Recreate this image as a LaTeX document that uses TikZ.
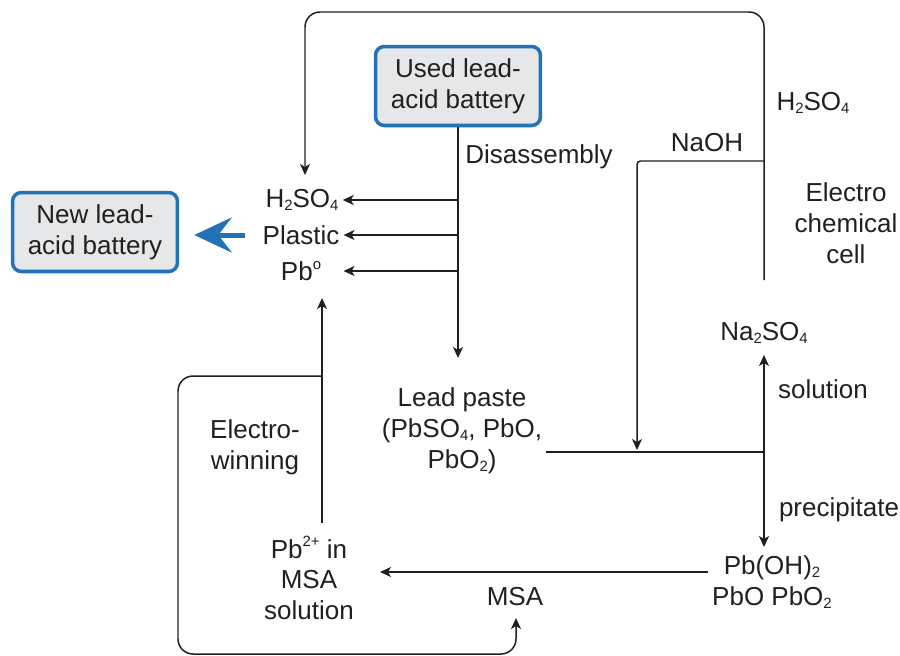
\documentclass[tikz,border=0pt]{standalone}
\usepackage{fontspec}
\setmainfont{Liberation Sans}
\usetikzlibrary{arrows.meta}
\definecolor{boxblue}{HTML}{2272B9}
\definecolor{boxgray}{HTML}{E6E7E9}
\definecolor{ink}{HTML}{231F20}
\newcommand{\chsub}[1]{\raisebox{-0.2ex}{\fontsize{8.5pt}{8.5pt}\selectfont #1}}
\newcommand{\chsup}[1]{\raisebox{0.85ex}{\fontsize{8.5pt}{8.5pt}\selectfont #1}}

\begin{document}
\begin{tikzpicture}[x=0.02cm, y=-0.02cm, line width=0.85pt, draw=ink, text=ink,
    font=\fontsize{14.8pt}{17.6pt}\selectfont,
    battery/.style = {draw=boxblue, line width=2pt, fill=boxgray, rounded corners=5pt,
        align=center, minimum width=3.3cm, minimum height=1.58cm},
    chem/.style = {align=center, inner sep=2pt},
    arr/.style = {-{Stealth[length=0.22cm, width=0.2cm, inset=0.06cm]}},
    bigarr/.style = {draw=boxblue, line width=0.1cm, -{Stealth[length=0.75cm, width=0.7cm, inset=0.27cm]}}]
                \useasboundingbox (0,0) rectangle (900,656);
                \node[battery] (used) at (458,86) {Used lead-\\acid battery};
                \node[battery] (newbat) at (95,232) {New lead-\\acid battery};
                \node[chem] (acidL) at (302,200) {H\chsub{2}SO\chsub{4}};
                \node[chem] (plastic) at (301,235) {Plastic};
                \node[chem] (lead) at (301,271) {Pb\chsup{o}};
                \node[chem] (paste) at (462,431) {Lead paste\\(PbSO\chsub{4}, PbO,\\PbO\chsub{2})};
                \node[chem] (sulfate) at (764,333) {Na\chsub{2}SO\chsub{4}};
                \node[chem] (hydrox) at (772,582) {Pb(OH)\chsub{2}\\PbO PbO\chsub{2}};
                \node[chem] (pbmsa) at (309,578) {Pb\chsup{2+} in\\MSA\\solution};
                \node[chem] (msa) at (515,597) {MSA};
                \node[chem] (disasm) at (539,157) {Disassembly};
                \node[chem] (acidR) at (813,103) {H\chsub{2}SO\chsub{4}};
                \node[chem] (naoh) at (707,143) {NaOH};
                \node[chem] (cell) at (846,223) {Electro\\chemical\\cell};
                \node[chem] (solut) at (823,389) {solution};
                \node[chem] (precip) at (839,510) {precipitate};
                \node[chem] (ewin) at (255,447) {Electro-\\winning};
                \coordinate (pasteIn) at (458,358);
                \coordinate (blueTail) at (245,235);
                \coordinate (cellBot) at (764,280);
                \coordinate (topRow) at (0,12);
                \coordinate (loopEnd) at (305,175);
                \coordinate (naohRow) at (0,161);
                \coordinate (naohIn) at (637,450);
                \coordinate (junct) at (764,452);
                \coordinate (solTip) at (764,355);
                \coordinate (precTip) at (764,547);
                \coordinate (msaIn) at (380,572);
                \coordinate (ewBot) at (322,523);
                \coordinate (ewTip) at (322,298);
                \coordinate (ewJoin) at (322,376);
                \coordinate (loopCorner) at (178,654);
                \coordinate (msaTip) at (516,618);
                % disassembly
                \draw[arr] (used) -- (pasteIn);
                \draw[arr] (used.south |- acidL) -- (acidL.east);
                \draw[arr] (used.south |- plastic) -- (plastic.east);
                \draw[arr] (used.south |- lead) -- (lead -| plastic.east);
                \draw[bigarr, shorten >=0.3cm] (blueTail) -- (blueTail -| newbat.east);
                % electrochemical cell
                \draw[arr, rounded corners=0.3cm] (cellBot) -- (cellBot |- topRow) -| (loopEnd);
                \draw[arr, rounded corners=2pt] (cellBot |- naohRow) -| (naohIn);
                \draw (paste.east |- junct) -- (junct);
                \draw[arr] (junct) -- (solTip);
                \draw[arr] (junct) -- (precTip);
                % leaching and electrowinning
                \draw[arr] (hydrox.west |- msaIn) -- (msaIn);
                \draw[arr] (ewBot) -- (ewTip);
                \draw[arr, rounded corners=0.3cm] (ewJoin) -| (loopCorner) -| (msaTip);
            \end{tikzpicture}
\end{document}
